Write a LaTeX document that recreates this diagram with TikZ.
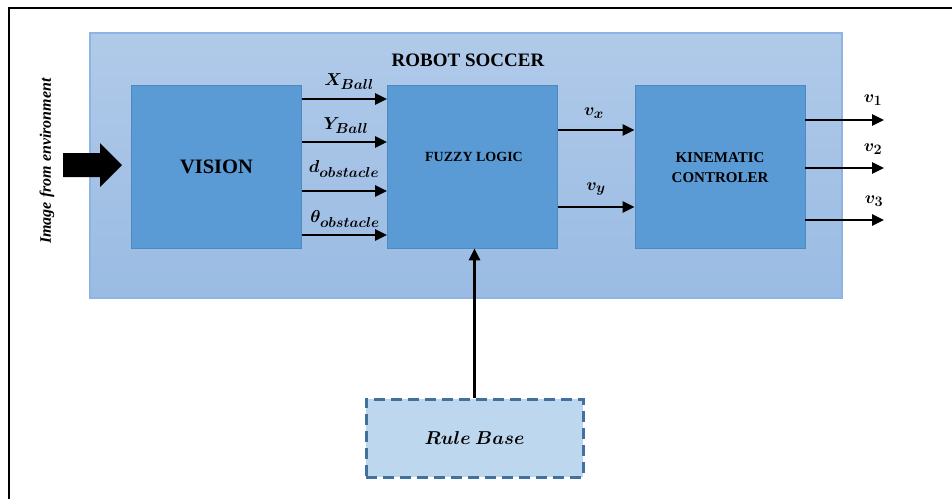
\documentclass[tikz,border=0pt]{standalone}
\usepackage{fontspec}
\setmainfont{Liberation Serif}
\usepackage{amsmath}
\usepackage{bm}
\DeclareMathSizes{17}{17}{13.5}{10}
\usetikzlibrary{arrows.meta}
\definecolor{outerTop}{HTML}{B0CAE9}
\definecolor{outerBot}{HTML}{9ABBE3}
\definecolor{outerLine}{HTML}{8EB4E3}
\definecolor{innerFill}{HTML}{5B9BD5}
\definecolor{innerLine}{HTML}{4F89C2}
\definecolor{ruleFill}{HTML}{BDD7EE}
\definecolor{ruleLine}{HTML}{41719C}
\tikzset{
  outerbox/.style={draw=outerLine, line width=1.2pt, top color=outerTop, bottom color=outerBot, inner sep=0pt},
  blockbox/.style={draw=innerLine, line width=0.8pt, fill=innerFill, inner sep=0pt, minimum width=170pt, minimum height=163pt, align=center},
  rulebox/.style={draw=ruleLine, fill=ruleFill, line width=3pt, dash pattern=on 11pt off 6pt, minimum width=217pt, minimum height=78pt, inner sep=0pt},
  arr/.style={-{Triangle[length=12pt,width=11pt]}, line width=2.6pt},
  lbl/.style={inner sep=0pt, font=\fontsize{17}{19}\selectfont},
  boxtext/.style={font=\fontsize{15}{20}\selectfont\bfseries, align=center, inner sep=0pt},
}
\begin{document}
\begin{tikzpicture}[x=1pt,y=-1pt]
\useasboundingbox (0,0) rectangle (952,499);
% frame
\draw[line width=2.4pt] (9,499) -- (9,8) -- (952,8);
% outer system box
\node[outerbox, minimum width=752pt, minimum height=265pt] (soccer) at (466,165.5) {};
\node[font=\fontsize{19}{21}\selectfont\bfseries, inner sep=0pt] (title) at (468,60) {ROBOT SOCCER};
% blocks
\node[blockbox] (vision) at (216.5,166.5) {\fontsize{20.5}{22}\selectfont\bfseries VISION};
\node[blockbox] (fuzzy) at (472.5,166.5) {};
\node[boxtext, font=\fontsize{14}{16}\selectfont\bfseries] (fuzzytxt) at (474,157) {FUZZY LOGIC};
\node[blockbox] (kin) at (720,166.5) {};
\node[boxtext] (kintxt) at (720,168) {KINEMATIC\\CONTROLER};
% rule base
\node[rulebox] (rule) at (474.5,438) {};
\node[lbl, scale=1.08] (ruletxt) at (rule.center) {$\bm{Rule\ Base}$};
% input arrow and label
\fill (63,153) -- (100,153) -- (100,143) -- (122,165) -- (100,187) -- (100,177) -- (63,177) -- cycle;
\node[rotate=90, font=\fontsize{16}{18}\selectfont\bfseries\itshape, inner sep=0pt] (imgtxt) at (47,161) {Image from environment};
% vision -> fuzzy
\coordinate (a1) at (0,99);
\coordinate (a2) at (0,142);
\coordinate (a3) at (0,191);
\coordinate (a4) at (0,235);
\draw[arr] (vision.east |- a1) -- (fuzzy.west |- a1);
\draw[arr] (vision.east |- a2) -- (fuzzy.west |- a2);
\draw[arr] (vision.east |- a3) -- (fuzzy.west |- a3);
\draw[arr] (vision.east |- a4) -- (fuzzy.west |- a4);
\node[lbl] (lxb) at (349,82) {$\bm{X_{Ball}}$};
\node[lbl] (lyb) at (346,126) {$\bm{Y_{Ball}}$};
\node[lbl] (ldo) at (344,169) {$\bm{d_{obstacle}}$};
\node[lbl] (lto) at (345,219) {$\bm{\theta_{obstacle}}$};
% fuzzy -> kinematic
\coordinate (b1) at (0,130);
\coordinate (b2) at (0,207);
\draw[arr] (fuzzy.east |- b1) -- (kin.west |- b1);
\draw[arr] (fuzzy.east |- b2) -- (kin.west |- b2);
\node[lbl] (lvx) at (594,113) {$\bm{v_x}$};
\node[lbl] (lvy) at (596,189) {$\bm{v_y}$};
% outputs
\coordinate (o1) at (884,120);
\coordinate (o2) at (884,168);
\coordinate (o3) at (884,220);
\draw[arr] (kin.east |- o1) -- (o1);
\draw[arr] (kin.east |- o2) -- (o2);
\draw[arr] (kin.east |- o3) -- (o3);
\node[lbl] (lv1) at (873,100) {$\bm{v_1}$};
\node[lbl] (lv2) at (873,149) {$\bm{v_2}$};
\node[lbl] (lv3) at (874,201) {$\bm{v_3}$};
% rule -> fuzzy
\draw[arr, line width=3pt] (rule.north) -- (rule.north |- fuzzy.south);
\end{tikzpicture}
\end{document}
